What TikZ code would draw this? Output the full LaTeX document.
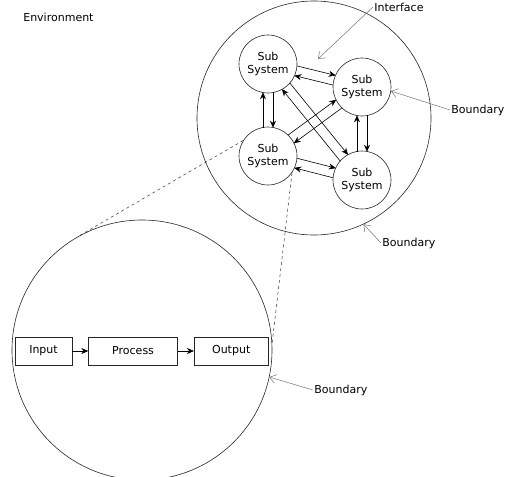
\documentclass[tikz,border=0pt]{standalone}
\usepackage{fontspec}
\setmainfont{DejaVu Sans}
\usetikzlibrary{positioning,calc,arrows.meta}

\begin{document}
\begin{tikzpicture}[x=1pt,y=-1pt,
font=\fontsize{11}{13.5}\selectfont,
line width=0.6pt,
bound/.style={circle, draw=black!85, inner sep=0pt},
subsys/.style={circle, draw=black!85, minimum size=58pt, inner sep=0pt, align=center},
block/.style={rectangle, draw=black!85, minimum height=28pt, inner sep=0pt},
link/.style={-{Stealth[length=7pt,width=6pt]}, shorten >=28.3pt, shorten <=28.3pt},
flow/.style={-{Stealth[length=7pt,width=6pt]}},
pointer/.style={draw=black!55, line width=0.5pt, -{Straight Barb[length=6pt,width=9pt]}},
zoomline/.style={dashed, draw=black!80, line width=0.5pt},
tag/.style={anchor=west, inner sep=1pt},
]
\useasboundingbox (0,0) rectangle (518,476);
\clip (0,0) rectangle (518,476);

% the two boundaries
\node[bound, minimum size=234pt] (sys) at (314,118) {};
\node[bound, minimum size=260pt] (low) at (142,350) {};

% sub systems
\node[subsys] (tl) at (268,64) {Sub\\System};
\node[subsys] (tr) at (362,87) {Sub\\System};
\node[subsys] (bl) at (268,156) {Sub\\System};
\node[subsys] (br) at (362,180) {Sub\\System};

% interfaces, two ways each
\foreach \a/\b in {tl/tr, tl/bl, tr/br, bl/br, tl/br, tr/bl} {
  \draw[link] ($(\a)!5pt!90:(\b)$) -- ($(\b)!5pt!-90:(\a)$);
  \draw[link] ($(\b)!5pt!90:(\a)$) -- ($(\a)!5pt!-90:(\b)$);
}

% zoom into one sub system
\draw[zoomline] (bl.148) -- (low.120);
\draw[zoomline] (bl.-35) -- (low.3);

% input - process - output
\node[block, minimum width=57pt] (in) at (43.5,351) {Input};
\node[block, minimum width=89pt, right=16pt of in] (proc) {Process};
\node[block, minimum width=74pt, right=16pt of proc] (out) {Output};
\draw[flow] (in) -- (proc);
\draw[flow] (proc) -- (out);

% labels
\node[tag] (env) at (22,17) {Environment};
\node[tag] (ilab) at (373,7) {Interface};
\coordinate (iface) at (318,59);
\draw[pointer] (ilab.west) -- (iface);
\node[tag] (b1) at (450,110) {Boundary};
\draw[pointer] (b1.west) -- (tr.-8);
\node[tag] (b2) at (381,243) {Boundary};
\draw[pointer] (b2.west) -- (sys.-65);
\node[tag] (b3) at (313,390) {Boundary};
\draw[pointer] (b3.west) -- (low.-12);
\end{tikzpicture}
\end{document}
